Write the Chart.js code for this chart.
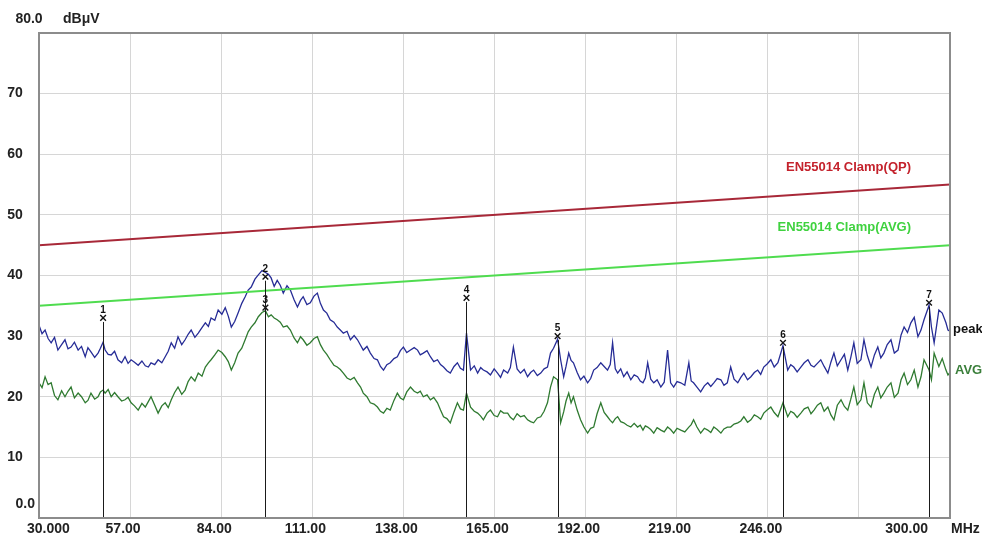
<!DOCTYPE html>
<html>
<head>
<meta charset="utf-8">
<script src="https://cdn.jsdelivr.net/npm/chart.js@4/dist/chart.umd.min.js"></script>
<style>
  html, body { margin: 0; padding: 0; background: #ffffff; }
  #wrap { width: 982px; height: 536px; }
</style>
</head>
<body>
<div id="wrap"><canvas id="emc" width="982" height="536"></canvas></div>
<script>
// Sweep frequencies (MHz) and measured levels (dBuV)
const sweepMHz = [
  30.0, 30.9, 31.8, 32.7, 33.6, 34.6, 35.6, 36.7, 37.7, 38.6,
  39.5, 40.5, 41.6, 42.6, 43.7, 44.5, 45.4, 46.5, 47.5, 48.2,
  49.0, 49.6, 50.5, 51.4, 52.4, 53.4, 54.5, 55.5, 56.4, 57.3,
  58.3, 59.4, 60.5, 61.5, 62.4, 63.2, 64.3, 65.3, 66.4, 67.4,
  68.3, 69.2, 70.2, 71.2, 72.3, 73.3, 74.2, 75.1, 76.2, 77.2,
  78.3, 79.3, 80.2, 81.0, 82.1, 83.1, 84.2, 85.2, 86.1, 87.0,
  88.0, 89.0, 90.1, 91.1, 92.0, 92.9, 94.0, 95.0, 96.1, 97.1,
  98.0, 98.8, 99.7, 100.6, 101.5, 102.4, 103.5, 104.5, 105.6, 106.6,
  107.5, 108.3, 109.4, 110.4, 111.5, 112.5, 113.4, 114.3, 115.3, 116.3,
  117.4, 118.4, 119.3, 120.2, 121.3, 122.3, 123.4, 124.4, 125.3, 126.1,
  127.2, 128.2, 129.3, 130.3, 131.2, 132.1, 133.1, 134.1, 135.2, 136.2,
  137.1, 138.0, 139.0, 140.1, 141.2, 142.2, 143.0, 143.9, 145.0, 146.0,
  147.0, 148.1, 149.0, 149.9, 150.9, 151.9, 153.0, 154.0, 154.9, 155.8,
  156.7, 157.9, 159.0, 160.0, 160.9, 161.7, 162.8, 163.8, 164.9, 165.9,
  166.8, 167.7, 168.9, 169.7, 170.6, 171.7, 172.7, 173.8, 174.8, 175.7,
  176.6, 177.7, 178.7, 179.7, 180.7, 181.6, 182.5, 183.7, 184.6, 185.5,
  186.2, 187.0, 187.7, 188.4, 189.5, 190.5, 191.5, 192.6, 193.5, 194.4,
  195.4, 196.5, 197.5, 198.5, 199.3, 200.0, 200.8, 201.5, 202.4, 203.3,
  204.3, 205.4, 206.4, 207.4, 208.2, 209.0, 209.7, 210.4, 211.3, 212.2,
  213.2, 214.3, 215.3, 216.3, 217.2, 218.1, 219.1, 220.2, 221.4, 222.6,
  223.3, 224.0, 225.0, 226.1, 227.2, 228.2, 229.1, 230.0, 231.0, 232.1,
  233.0, 234.0, 235.0, 236.0, 237.1, 238.0, 238.9, 240.0, 241.0, 242.0,
  243.0, 243.9, 244.8, 245.8, 246.9, 247.9, 249.0, 250.5, 251.9, 252.8,
  253.7, 254.7, 255.8, 256.8, 257.9, 258.8, 259.7, 260.7, 261.7, 262.7,
  263.8, 264.7, 265.6, 266.6, 267.7, 268.7, 269.7, 270.6, 271.5, 272.5,
  273.6, 274.5, 275.5, 276.6, 277.6, 278.6, 279.5, 280.4, 281.4, 282.5,
  283.5, 284.6, 285.5, 286.4, 287.4, 288.4, 289.4, 290.5, 291.4, 292.3,
  293.8, 294.5, 295.3, 296.7, 297.7, 298.8, 299.4, 300.0
];

const peakDbuv = [
  31.8, 30.4, 31.0, 29.6, 28.9, 29.8, 27.7, 28.6, 29.4, 27.9,
  28.2, 29.0, 27.7, 28.3, 26.6, 28.1, 27.4, 26.5, 27.2, 28.0,
  29.0, 27.7, 27.0, 26.9, 27.5, 26.1, 25.6, 26.6, 25.5, 26.1,
  25.7, 25.2, 25.9, 25.1, 24.9, 25.6, 25.3, 26.1, 25.6, 26.6,
  27.5, 28.9, 28.0, 29.9, 28.6, 29.4, 30.3, 31.0, 29.8, 30.5,
  31.4, 32.2, 31.6, 33.0, 32.6, 34.3, 33.6, 34.7, 33.3, 31.5,
  32.4, 33.8, 35.4, 36.5, 37.6, 38.1, 39.4, 40.1, 40.8, 40.5,
  40.2, 39.6, 38.2, 39.2, 38.4, 37.1, 38.3, 37.6, 36.0, 34.8,
  35.9, 36.5, 35.2, 35.5, 36.6, 37.1, 35.4, 34.3, 33.8, 32.7,
  32.3, 31.5, 31.0, 30.5, 30.8, 29.4, 30.1, 29.4, 28.5, 27.7,
  28.3, 27.2, 26.3, 26.1, 25.0, 24.4, 25.3, 25.6, 26.3, 26.6,
  27.6, 28.2, 27.3, 27.7, 28.1, 27.7, 26.9, 27.2, 27.6, 26.6,
  25.8, 26.1, 25.3, 24.9, 24.3, 23.9, 25.0, 25.6, 24.7, 24.4,
  30.5, 24.4, 25.1, 23.9, 24.8, 24.4, 24.1, 23.6, 24.6, 23.9,
  23.2, 24.4, 23.9, 24.8, 28.2, 24.6, 23.9, 24.5, 23.3, 24.0,
  24.4, 23.5, 23.9, 24.6, 24.9, 27.2, 28.0, 29.5, 26.1, 23.3,
  25.0, 27.2, 26.0, 25.6, 24.0, 22.8, 23.4, 22.3, 23.0, 24.4,
  24.8, 25.6, 25.0, 24.4, 25.3, 28.9, 24.6, 23.9, 24.6, 23.3,
  24.1, 22.8, 23.6, 23.3, 22.6, 22.3, 23.1, 25.6, 22.9, 22.3,
  22.8, 21.6, 22.4, 27.7, 22.3, 21.6, 22.5, 22.3, 21.9, 25.6,
  22.6, 22.3, 21.6, 20.8, 21.8, 22.3, 21.7, 22.3, 23.0, 22.8,
  21.9, 22.3, 24.9, 22.9, 22.3, 23.2, 23.9, 22.8, 23.3, 24.0,
  24.4, 23.7, 24.9, 25.4, 26.1, 24.9, 25.6, 28.4, 24.4, 25.3,
  24.9, 24.1, 24.9, 25.6, 26.1, 25.2, 24.9, 25.5, 26.1, 25.0,
  23.9, 25.7, 27.2, 25.1, 26.1, 27.0, 24.4, 26.5, 28.9, 25.5,
  26.1, 29.4, 26.8, 24.9, 26.9, 28.2, 26.4, 27.2, 28.6, 29.4,
  27.2, 27.7, 30.2, 31.5, 30.6, 32.2, 33.1, 29.9, 31.0, 32.7,
  35.1, 31.5, 28.9, 34.3, 33.8, 32.2, 31.0, 30.8
];

const avgDbuv = [
  22.3, 21.5, 23.3, 22.0, 22.3, 20.2, 19.5, 21.0, 20.0, 20.9,
  21.6, 19.8, 20.6, 20.0, 19.0, 19.4, 20.6, 19.6, 20.0, 20.8,
  21.1, 20.6, 21.2, 20.0, 20.7, 20.0, 19.3, 19.5, 19.9, 19.0,
  18.5, 17.8, 18.9, 18.3, 19.2, 20.0, 18.6, 17.3, 18.5, 19.0,
  18.2, 19.5, 20.7, 21.6, 20.4, 21.1, 22.5, 23.3, 22.6, 23.9,
  23.4, 24.9, 25.6, 26.1, 26.9, 27.7, 27.3, 26.6, 25.8, 24.4,
  25.6, 27.2, 28.0, 29.4, 30.7, 31.5, 32.2, 33.2, 33.9, 34.2,
  33.2, 33.5, 33.0, 32.7, 32.3, 31.5, 31.7, 31.0, 29.7, 28.9,
  29.9, 29.4, 28.5, 28.9, 29.6, 29.9, 28.6, 27.7, 27.0, 26.1,
  25.2, 24.9, 24.5, 23.9, 23.1, 22.8, 23.2, 22.3, 21.6, 20.6,
  20.0, 19.0, 18.8, 18.3, 17.6, 17.3, 18.1, 17.8, 19.4, 20.6,
  19.8, 19.5, 20.8, 21.6, 20.9, 20.6, 20.9, 20.0, 20.3, 19.5,
  19.9, 19.0, 17.8, 16.7, 16.4, 15.7, 17.5, 19.0, 18.0, 17.8,
  20.6, 18.3, 17.6, 17.3, 16.8, 16.2, 17.3, 17.8, 16.9, 16.7,
  17.7, 17.3, 17.3, 16.6, 16.2, 17.2, 16.7, 16.9, 16.2, 15.9,
  15.7, 16.5, 16.7, 17.6, 19.0, 21.6, 23.3, 22.8, 15.7, 17.5,
  19.3, 20.6, 19.0, 20.0, 17.8, 16.2, 15.0, 14.0, 14.8, 15.0,
  17.2, 19.0, 17.4, 16.7, 16.1, 15.7, 16.4, 16.7, 15.9, 15.7,
  15.3, 15.0, 15.6, 15.0, 15.3, 14.5, 15.2, 15.0, 14.6, 14.0,
  14.9, 14.5, 14.2, 15.0, 14.6, 14.0, 14.8, 14.5, 14.2, 15.0,
  15.4, 16.2, 15.0, 14.0, 14.8, 14.5, 14.1, 15.0, 14.6, 14.0,
  14.7, 15.0, 15.0, 15.5, 15.7, 16.0, 16.7, 15.8, 16.2, 17.0,
  16.7, 16.3, 17.3, 17.8, 18.3, 17.4, 16.7, 19.0, 16.7, 17.6,
  17.3, 16.6, 17.3, 18.0, 18.3, 17.2, 17.8, 18.6, 19.0, 17.6,
  18.3, 17.0, 16.2, 18.6, 19.5, 18.4, 17.8, 19.6, 21.6, 18.7,
  19.5, 22.3, 19.0, 18.3, 20.4, 21.6, 19.8, 20.6, 21.6, 22.3,
  19.9, 20.6, 22.8, 23.9, 22.0, 22.8, 24.4, 21.6, 23.3, 26.1,
  24.4, 22.8, 27.2, 25.0, 26.3, 24.4, 23.6, 24.0
];

// EN55014 clamp limits (linear in frequency)
const limitMHz = [30, 300];
const qpLimit = [45, 55];
const avgLimit = [35, 45];

// Final measurement markers
const markerNo = ['1', '2', '3', '4', '5', '6', '7'];
const markerMHz = [49.0, 97.1, 97.1, 156.7, 183.7, 250.5, 293.8];
const markerDbuv = [33.0, 39.8, 34.7, 36.3, 30.0, 28.9, 35.5];

// Axis ticks and their printed labels
const xTicks = [30, 57, 84, 111, 138, 165, 192, 219, 246, 273, 300];
const xTickLabels = ['30.000', '57.00', '84.00', '111.00', '138.00', '165.00', '192.00', '219.00', '246.00', '', '300.00'];
const yTicks = [0, 10, 20, 30, 40, 50, 60, 70, 80];
const yTickLabels = ['0.0', '10', '20', '30', '40', '50', '60', '70', '80.0'];

const FONT = '"Liberation Sans", Arial, sans-serif';

const pts = (xs, ys) => xs.map((x, i) => ({ x: x, y: ys[i] }));

// Frame, axis text, limit names and marker decorations
const decorations = {
  id: 'emcDecorations',
  afterDatasetsDraw(chart) {
    const ctx = chart.ctx;
    const xs = chart.scales.x, ys = chart.scales.y;
    const a = chart.chartArea;
    ctx.save();

    // marker drop lines
    ctx.strokeStyle = '#1a1a1a';
    ctx.lineWidth = 1;
    markerMHz.forEach((f, i) => {
      const px = Math.round(xs.getPixelForValue(f)) + 0.5;
      const py = ys.getPixelForValue(markerDbuv[i]);
      ctx.beginPath();
      ctx.moveTo(px, py + 4);
      ctx.lineTo(px, a.bottom);
      ctx.stroke();
    });

    // marker numbers
    ctx.fillStyle = '#111111';
    ctx.font = 'bold 10px ' + FONT;
    ctx.textAlign = 'center';
    ctx.textBaseline = 'alphabetic';
    markerMHz.forEach((f, i) => {
      const px = xs.getPixelForValue(f);
      const py = ys.getPixelForValue(markerDbuv[i]);
      ctx.fillText(markerNo[i], px, py - 5);
    });

    // plot frame
    ctx.strokeStyle = '#8c8c8c';
    ctx.lineWidth = 2;
    ctx.strokeRect(a.left, a.top, a.right - a.left, a.bottom - a.top);

    // x tick labels
    ctx.fillStyle = '#222222';
    ctx.font = 'bold 14px ' + FONT;
    ctx.textBaseline = 'middle';
    const lx = a.bottom + 11;
    xTicks.forEach((v, i) => {
      const t = xTickLabels[i];
      if (!t) return;
      const px = xs.getPixelForValue(v);
      if (i === 0) {
        ctx.textAlign = 'left';
        ctx.fillText(t, px - 12, lx);
      } else if (i === xTicks.length - 1) {
        ctx.textAlign = 'right';
        ctx.fillText(t, px - 22, lx);
      } else {
        ctx.textAlign = 'center';
        ctx.fillText(t, px - 7, lx);
      }
    });
    ctx.textAlign = 'left';
    ctx.fillText('MHz', a.right + 1, lx);

    // y tick labels
    yTicks.forEach((v, i) => {
      const py = ys.getPixelForValue(v);
      const t = yTickLabels[i];
      if (v === 0) {
        ctx.textAlign = 'right';
        ctx.fillText(t, 35, py - 14);
      } else if (v === 80) {
        ctx.textAlign = 'center';
        ctx.fillText(t, 29, py - 14);
        ctx.textAlign = 'left';
        ctx.fillText('dBμV', 63, py - 14);
      } else {
        ctx.textAlign = 'center';
        ctx.fillText(t, 15, py);
      }
    });

    // limit names
    ctx.textAlign = 'right';
    ctx.font = 'bold 13px ' + FONT;
    ctx.fillStyle = '#c4222c';
    ctx.fillText('EN55014 Clamp(QP)', 911, ys.getPixelForValue(57.8));
    ctx.fillStyle = '#3fd23f';
    ctx.fillText('EN55014 Clamp(AVG)', 911, ys.getPixelForValue(47.9));

    // trace names
    ctx.textAlign = 'left';
    ctx.font = 'bold 13px ' + FONT;
    ctx.fillStyle = '#111111';
    ctx.fillText('peak', a.right + 3, ys.getPixelForValue(31.1));
    ctx.fillStyle = '#3b7f3b';
    ctx.fillText('AVG', a.right + 5, ys.getPixelForValue(24.4));

    ctx.restore();
  }
};

new Chart(document.getElementById('emc'), {
  type: 'line',
  data: {
    datasets: [
      {
        label: 'EN55014 Clamp(QP)',
        data: pts(limitMHz, qpLimit),
        borderColor: '#a82838',
        borderWidth: 2,
        pointRadius: 0
      },
      {
        label: 'EN55014 Clamp(AVG)',
        data: pts(limitMHz, avgLimit),
        borderColor: '#4fdc4f',
        borderWidth: 2,
        pointRadius: 0
      },
      {
        label: 'AVG',
        data: pts(sweepMHz, avgDbuv),
        borderColor: '#2f7a30',
        borderWidth: 1.3,
        pointRadius: 0
      },
      {
        label: 'peak',
        data: pts(sweepMHz, peakDbuv),
        borderColor: '#262c96',
        borderWidth: 1.3,
        pointRadius: 0
      },
      {
        type: 'scatter',
        label: 'markers',
        data: pts(markerMHz, markerDbuv),
        showLine: false,
        pointStyle: 'crossRot',
        pointRadius: 4,
        borderColor: '#111111',
        borderWidth: 1.4
      }
    ]
  },
  options: {
    responsive: false,
    animation: false,
    devicePixelRatio: 1,
    layout: { padding: { left: 39, top: 33, right: 32, bottom: 18 } },
    plugins: { legend: { display: false }, tooltip: { enabled: false } },
    elements: { line: { tension: 0 } },
    scales: {
      x: {
        type: 'linear',
        min: 30,
        max: 300,
        afterBuildTicks: (s) => { s.ticks = xTicks.map(v => ({ value: v })); },
        ticks: { display: false },
        grid: { color: '#d6d6d6', lineWidth: 1, drawTicks: false },
        border: { display: false }
      },
      y: {
        type: 'linear',
        min: 0,
        max: 80,
        afterBuildTicks: (s) => { s.ticks = yTicks.map(v => ({ value: v })); },
        ticks: { display: false },
        grid: { color: '#d6d6d6', lineWidth: 1, drawTicks: false },
        border: { display: false }
      }
    }
  },
  plugins: [decorations]
});
</script>
</body>
</html>
